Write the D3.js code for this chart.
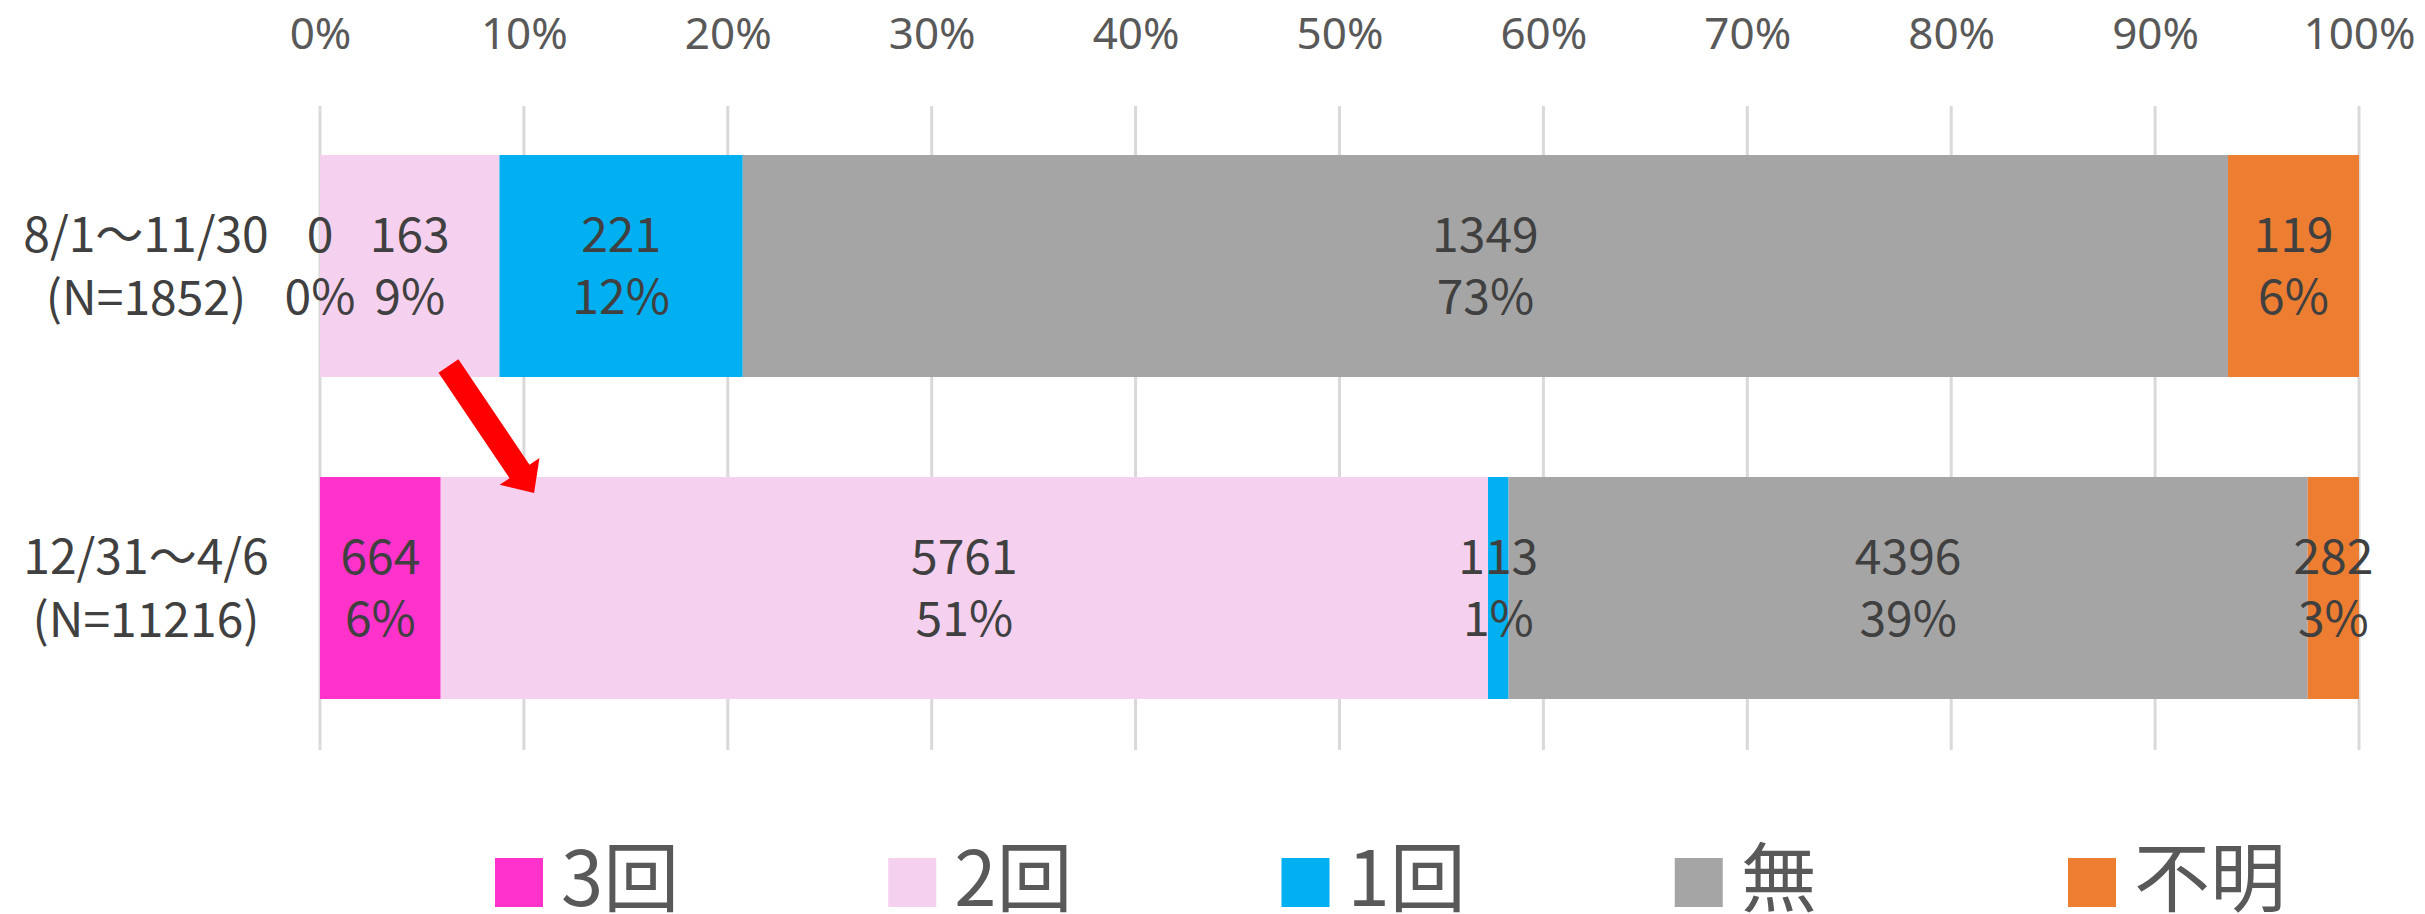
<!DOCTYPE html>
<html>
<head>
<meta charset="utf-8">
<script src="https://cdn.jsdelivr.net/npm/d3@7"></script>
<style>
  html, body { margin: 0; padding: 0; background: #fff; }
  svg { display: block; }
</style>
</head>
<body>
<div id="chart"></div>
<script>
// periods (two lines each) and answer categories
const periods = ['8/1～11/30', '12/31～4/6'];
const periodN = ['(N=1852)', '(N=11216)'];
const series = ['3回', '2回', '1回', '無', '不明'];
const colors = ['#FF33CC', '#F5D0EF', '#00B0F0', '#A5A5A5', '#ED7D31'];

// counts per period, same order as series
const counts = [
  [0, 163, 221, 1349, 119],
  [664, 5761, 113, 4396, 282]
];

const ticks = [0, 0.1, 0.2, 0.3, 0.4, 0.5, 0.6, 0.7, 0.8, 0.9, 1];

const W = 2425, H = 914;

const svg = d3.select('#chart')
  .append('svg')
  .attr('width', W)
  .attr('height', H);

const x = d3.scaleLinear().domain([0, 1]).range([320, 2359]);

const y = d3.scaleBand()
  .domain(periods)
  .range([55, 799])
  .paddingInner(0.3106)
  .paddingOuter(0.3106);

// stacked shares
const rows = periods.map((p, i) => {
  const total = d3.sum(counts[i]);
  let acc = 0;
  return series.map((s, j) => {
    const v = counts[i][j];
    const seg = { period: p, key: s, value: v, x0: acc / total, x1: (acc + v) / total, color: colors[j] };
    acc += v;
    return seg;
  });
});

// gridlines
svg.append('g')
  .selectAll('line')
  .data(ticks)
  .join('line')
  .attr('x1', d => x(d))
  .attr('x2', d => x(d))
  .attr('y1', 106)
  .attr('y2', 750)
  .attr('stroke', '#D9D9D9')
  .attr('stroke-width', 3);

// top axis labels
const axis = svg.append('g')
  .attr('transform', 'translate(0,34)')
  .call(d3.axisTop(x).tickValues(ticks).tickFormat(d3.format('.0%')).tickSize(0).tickPadding(0));
axis.select('.domain').remove();
axis.selectAll('text')
  .attr('y', 0)
  .attr('dy', '0.35em')
  .attr('fill', '#595959')
  .style('font-family', '"Noto Sans", sans-serif')
  .style('font-size', '44px');

// bars
svg.append('g')
  .selectAll('g')
  .data(rows)
  .join('g')
  .selectAll('rect')
  .data(d => d)
  .join('rect')
  .attr('x', d => x(d.x0))
  .attr('width', d => x(d.x1) - x(d.x0))
  .attr('y', d => y(d.period))
  .attr('height', y.bandwidth())
  .attr('fill', d => d.color);

// value labels
const lbl = svg.append('g')
  .selectAll('g')
  .data(rows.flat())
  .join('g')
  .attr('transform', d => `translate(${x((d.x0 + d.x1) / 2)},${y(d.period) + y.bandwidth() / 2})`)
  .style('font-family', '"Noto Sans CJK JP", sans-serif')
  .style('font-size', '48px')
  .attr('fill', '#404040')
  .attr('text-anchor', 'middle');

lbl.append('text')
  .attr('y', -31)
  .attr('dy', '0.35em')
  .text(d => d.value);
lbl.append('text')
  .attr('y', 31)
  .attr('dy', '0.35em')
  .text(d => Math.round((d.x1 - d.x0) * 100) + '%');

// period labels
const cat = svg.append('g')
  .selectAll('g')
  .data(periods)
  .join('g')
  .attr('transform', d => `translate(146,${y(d) + y.bandwidth() / 2})`)
  .style('font-family', '"Noto Sans CJK JP", sans-serif')
  .style('font-size', '48px')
  .attr('fill', '#404040')
  .attr('text-anchor', 'middle');
cat.append('text').attr('y', -31).attr('dy', '0.35em').text(d => d);
cat.append('text').attr('y', 32).attr('dy', '0.35em').text((d, i) => periodN[i]);

// red arrow from first period's 2回 down to second
const tail = [x(0.063), y(periods[0]) + y.bandwidth() - 11];
const tip = [x(0.105), y(periods[1]) + 16];
const dx = tip[0] - tail[0], dy = tip[1] - tail[1];
const len = Math.hypot(dx, dy);
const ux = dx / len, uy = dy / len, px = -uy, py = ux;
const sw = 12, hw = 24, hl = 26;
const bx = tip[0] - ux * hl, by = tip[1] - uy * hl;
const pts = [
  [tail[0] + px * sw, tail[1] + py * sw],
  [bx + px * sw, by + py * sw],
  [bx + px * hw, by + py * hw],
  tip,
  [bx - px * hw, by - py * hw],
  [bx - px * sw, by - py * sw],
  [tail[0] - px * sw, tail[1] - py * sw]
];
svg.append('path')
  .attr('d', d3.line()(pts) + 'Z')
  .attr('fill', '#FF0000');

// legend
const lx = d3.scalePoint().domain(series).range([495, 2068]);
const leg = svg.append('g')
  .selectAll('g')
  .data(series)
  .join('g')
  .attr('transform', d => `translate(${lx(d)},0)`);
leg.append('rect')
  .attr('y', 858)
  .attr('width', 48)
  .attr('height', 49)
  .attr('fill', (d, i) => colors[i]);
leg.append('text')
  .attr('x', 66)
  .attr('y', 906)
  .attr('fill', '#595959')
  .style('font-family', '"Noto Sans CJK JP", sans-serif')
  .style('font-size', '76px')
  .text(d => d);
</script>
</body>
</html>
